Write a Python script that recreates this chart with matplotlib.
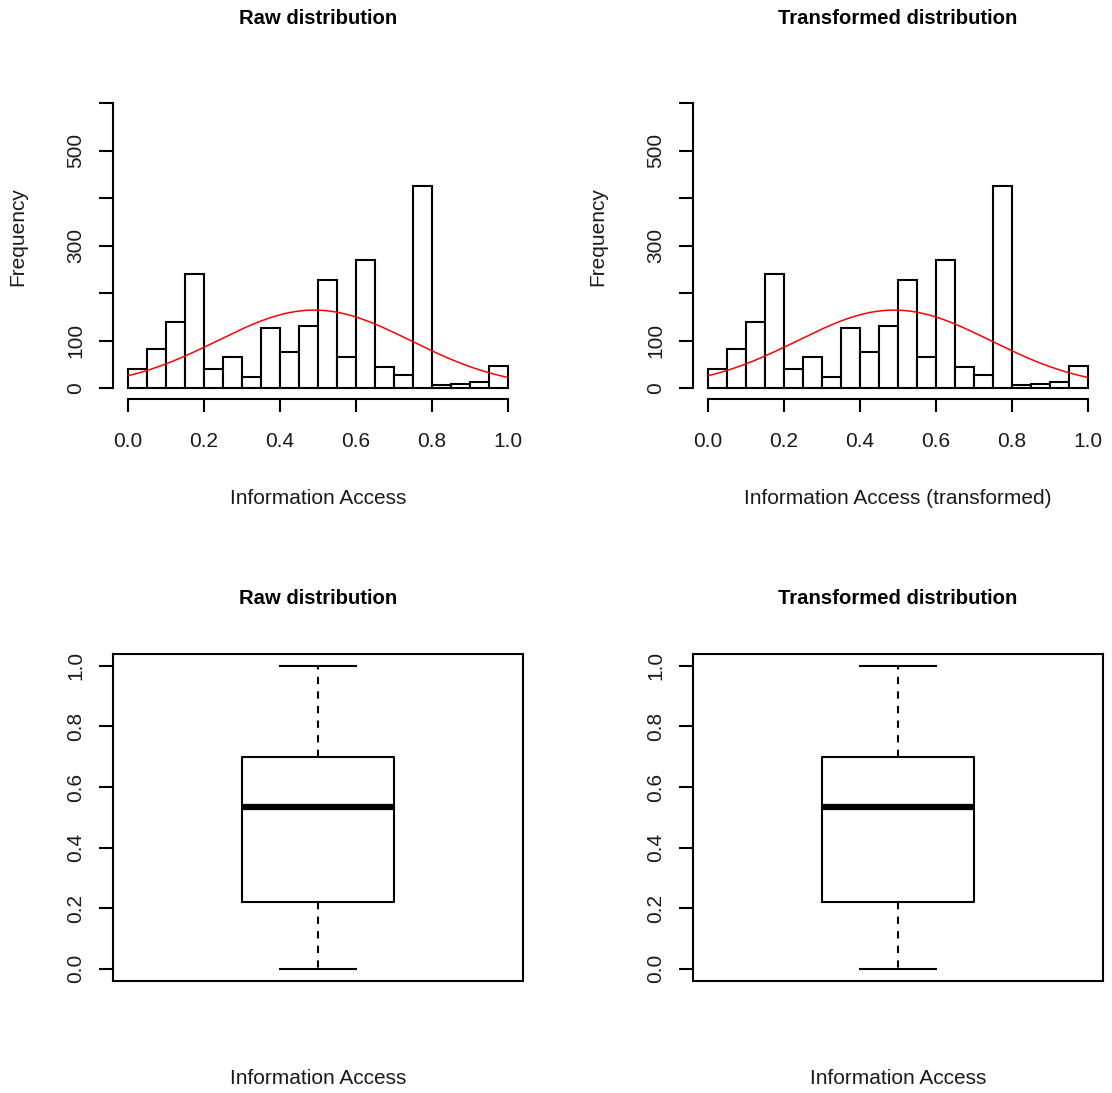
import matplotlib

matplotlib.use("Agg")

import matplotlib.pyplot as plt
import numpy as np

plt.rcParams["font.family"] = ["Liberation Sans", "DejaVu Sans"]

# histogram counts, 20 bins of width 0.05 on [0, 1]
bin_edges = np.linspace(0.0, 1.0, 21)
counts = [40, 82, 139, 241, 40, 65, 24, 126, 75, 130,
          228, 65, 270, 45, 28, 425, 6, 8, 13, 47]

# normal curve overlaid on the histogram
curve_mean = 0.49
curve_sd = 0.255

# boxplot five-number summary
box_stats = {"whislo": 0.0, "q1": 0.22, "med": 0.535, "q3": 0.70, "whishi": 1.0}

panel_titles = ["Raw distribution", "Transformed distribution"]
hist_xlabels = ["Information Access", "Information Access (transformed)"]
box_xlabels = ["Information Access", "Information Access"]

W, H = 1112, 1093
fig = plt.figure(figsize=(W / 100, H / 100), dpi=100)


def px_axes(left, top, right, bottom):
    return fig.add_axes([left / W, 1 - bottom / H, (right - left) / W, (bottom - top) / H])


FS = 15
TXT = "#1a1a1a"


def draw_hist(ax, title, xlabel):
    widths = np.diff(bin_edges)
    ax.bar(bin_edges[:-1], counts, width=widths, align="edge",
           facecolor="white", edgecolor="black", linewidth=1.5)
    x = np.linspace(0, 1, 200)
    n = sum(counts)
    y = n * widths[0] * np.exp(-0.5 * ((x - curve_mean) / curve_sd) ** 2) / (curve_sd * np.sqrt(2 * np.pi))
    ax.plot(x, y, color="red", linewidth=1.1)
    ax.set_xlim(-0.04, 1.04)
    ax.set_ylim(-24, 624)
    for side in ("top", "right"):
        ax.spines[side].set_visible(False)
    ax.spines["left"].set_bounds(0, 600)
    ax.spines["bottom"].set_bounds(0, 1)
    for sp in ax.spines.values():
        sp.set_linewidth(1.5)
    ticks = np.arange(0, 1.01, 0.2)
    ax.set_xticks(ticks)
    ax.set_xticklabels([f"{v:.1f}" for v in ticks])
    ax.set_yticks(np.arange(0, 601, 100))
    ax.set_yticklabels(["0", "100", "", "300", "", "500", ""], rotation=90, va="center")
    ax.tick_params(axis="x", length=9.5, width=1.5, pad=14, labelsize=FS, labelcolor=TXT)
    ax.tick_params(axis="y", length=10, width=1.5, pad=10, labelsize=FS, labelcolor=TXT)
    ax.set_title(title, fontsize=14.6, fontweight="bold", pad=49)
    ax.set_xlabel(xlabel, fontsize=FS, color=TXT)
    ax.xaxis.set_label_coords(0.5, -0.29)
    ax.set_ylabel("Frequency", fontsize=FS, color=TXT)
    ax.yaxis.set_label_coords(-0.21, 0.53)


def draw_box(ax, title, xlabel):
    stats = dict(box_stats, label="")
    ax.bxp([stats], positions=[1], widths=0.4, showfliers=False, capwidths=0.2,
           boxprops=dict(color="black", linewidth=1.5),
           whiskerprops=dict(color="black", linewidth=1.5, linestyle=(0, (3.5, 3.5))),
           capprops=dict(color="black", linewidth=1.5),
           medianprops=dict(color="black", linewidth=4.5, solid_capstyle="butt"))
    ax.set_xlim(0.46, 1.54)
    ax.set_ylim(-0.04, 1.04)
    ax.set_xticks([])
    ticks = np.arange(0, 1.01, 0.2)
    ax.set_yticks(ticks)
    ax.set_yticklabels([f"{v:.1f}" for v in ticks], rotation=90, va="center")
    ax.tick_params(axis="y", length=10, width=1.5, pad=10, labelsize=FS, labelcolor=TXT)
    for sp in ax.spines.values():
        sp.set_linewidth(1.5)
    ax.set_title(title, fontsize=14.6, fontweight="bold", pad=36)
    ax.set_xlabel(xlabel, fontsize=FS, color=TXT)
    ax.xaxis.set_label_coords(0.5, -0.27)


for i, left in enumerate([113, 693]):
    ax = px_axes(left, 91.6, left + 410, 399.4)
    draw_hist(ax, panel_titles[i], hist_xlabels[i])
    ax = px_axes(left, 653.6, left + 410, 981)
    draw_box(ax, panel_titles[i], box_xlabels[i])

fig.savefig("out.png", dpi=100)
